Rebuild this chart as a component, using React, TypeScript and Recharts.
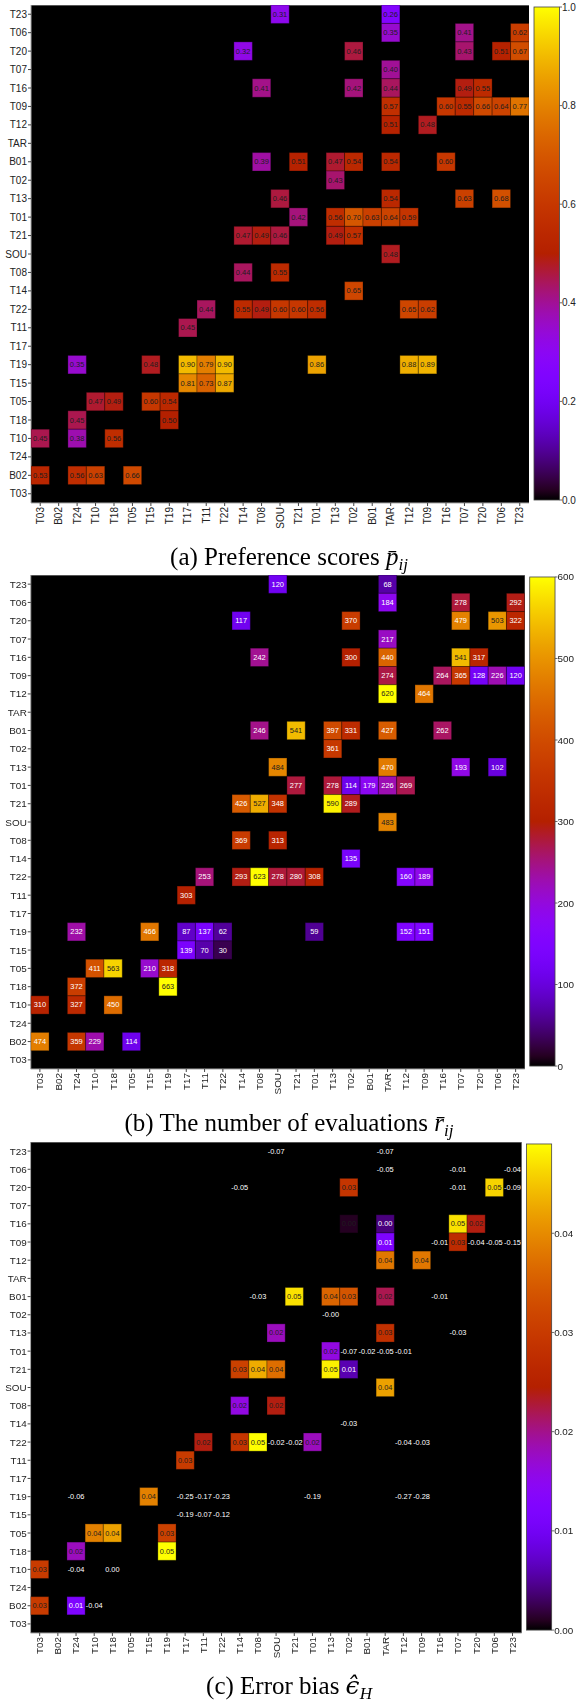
import React from 'react';
import { ScatterChart, Scatter, XAxis, YAxis, CartesianGrid, ReferenceLine } from 'recharts';

// ---------- DATA ----------
const columnLabels = ['T03','B02','T24','T10','T18','T05','T15','T19','T17','T11','T22','T14','T08','SOU','T21','T01','T13','T02','B01','TAR','T12','T09','T16','T07','T20','T06','T23'];
const rowLabels = [...columnLabels].reverse();

type Entry = [string, string, number];

const preferenceScores: Entry[] = [
  ['T23','SOU',0.31],['T23','TAR',0.26],
  ['T06','TAR',0.35],['T06','T07',0.41],['T06','T23',0.62],
  ['T20','T14',0.32],['T20','T02',0.46],['T20','T07',0.43],['T20','T06',0.51],['T20','T23',0.67],
  ['T07','TAR',0.40],
  ['T16','T08',0.41],['T16','T02',0.42],['T16','TAR',0.44],['T16','T07',0.49],['T16','T20',0.55],
  ['T09','TAR',0.57],['T09','T16',0.60],['T09','T07',0.55],['T09','T20',0.66],['T09','T06',0.64],['T09','T23',0.77],
  ['T12','TAR',0.51],['T12','T09',0.48],
  ['B01','T08',0.39],['B01','T21',0.51],['B01','T13',0.47],['B01','T02',0.54],['B01','TAR',0.54],['B01','T16',0.60],
  ['T02','T13',0.43],
  ['T13','SOU',0.46],['T13','TAR',0.54],['T13','T07',0.63],['T13','T06',0.68],
  ['T01','T21',0.42],['T01','T13',0.56],['T01','T02',0.70],['T01','B01',0.63],['T01','TAR',0.64],['T01','T12',0.59],
  ['T21','T14',0.47],['T21','T08',0.49],['T21','SOU',0.46],['T21','T13',0.49],['T21','T02',0.57],
  ['SOU','TAR',0.48],
  ['T08','T14',0.44],['T08','SOU',0.55],
  ['T14','T02',0.65],
  ['T22','T11',0.44],['T22','T14',0.55],['T22','T08',0.49],['T22','SOU',0.60],['T22','T21',0.60],['T22','T01',0.56],['T22','T12',0.65],['T22','T09',0.62],
  ['T11','T17',0.45],
  ['T19','T24',0.35],['T19','T15',0.48],['T19','T17',0.90],['T19','T11',0.79],['T19','T22',0.90],['T19','T01',0.86],['T19','T12',0.88],['T19','T09',0.89],
  ['T15','T17',0.81],['T15','T11',0.73],['T15','T22',0.87],
  ['T05','T10',0.47],['T05','T18',0.49],['T05','T15',0.60],['T05','T19',0.54],
  ['T18','T24',0.45],['T18','T19',0.50],
  ['T10','T03',0.45],['T10','T24',0.38],['T10','T18',0.56],
  ['B02','T03',0.53],['B02','T24',0.56],['B02','T10',0.63],['B02','T05',0.66],
];

const evaluationCounts: Entry[] = [
  ['T23','SOU',120],['T23','TAR',68],
  ['T06','TAR',184],['T06','T07',278],['T06','T23',292],
  ['T20','T14',117],['T20','T02',370],['T20','T07',479],['T20','T06',503],['T20','T23',322],
  ['T07','TAR',217],
  ['T16','T08',242],['T16','T02',300],['T16','TAR',440],['T16','T07',541],['T16','T20',317],
  ['T09','TAR',274],['T09','T16',264],['T09','T07',365],['T09','T20',128],['T09','T06',226],['T09','T23',120],
  ['T12','TAR',620],['T12','T09',464],
  ['B01','T08',246],['B01','T21',541],['B01','T13',397],['B01','T02',331],['B01','TAR',427],['B01','T16',262],
  ['T02','T13',361],
  ['T13','SOU',484],['T13','TAR',470],['T13','T07',193],['T13','T06',102],
  ['T01','T21',277],['T01','T13',278],['T01','T02',114],['T01','B01',179],['T01','TAR',226],['T01','T12',269],
  ['T21','T14',426],['T21','T08',527],['T21','SOU',348],['T21','T13',590],['T21','T02',289],
  ['SOU','TAR',483],
  ['T08','T14',369],['T08','SOU',313],
  ['T14','T02',135],
  ['T22','T11',253],['T22','T14',293],['T22','T08',623],['T22','SOU',278],['T22','T21',280],['T22','T01',308],['T22','T12',160],['T22','T09',189],
  ['T11','T17',303],
  ['T19','T24',232],['T19','T15',466],['T19','T17',87],['T19','T11',137],['T19','T22',62],['T19','T01',59],['T19','T12',152],['T19','T09',151],
  ['T15','T17',139],['T15','T11',70],['T15','T22',30],
  ['T05','T10',411],['T05','T18',563],['T05','T15',210],['T05','T19',318],
  ['T18','T24',372],['T18','T19',663],
  ['T10','T03',310],['T10','T24',327],['T10','T18',450],
  ['B02','T03',474],['B02','T24',359],['B02','T10',229],['B02','T05',114],
];

const errorBias: Entry[] = [
  ['T23','SOU',-0.07],['T23','TAR',-0.07],
  ['T06','TAR',-0.05],['T06','T07',-0.01],['T06','T23',-0.04],
  ['T20','T14',-0.05],['T20','T02',0.029],['T20','T07',-0.01],['T20','T06',0.046],['T20','T23',-0.09],
  ['T16','T02',0.001],['T16','TAR',0.004],['T16','T07',0.047],['T16','T20',0.024],
  ['T09','TAR',0.012],['T09','T16',-0.01],['T09','T07',0.027],['T09','T20',-0.04],['T09','T06',-0.05],['T09','T23',-0.15],
  ['T12','TAR',0.038],['T12','T09',0.038],
  ['B01','T08',-0.03],['B01','T21',0.047],['B01','T13',0.036],['B01','T02',0.034],['B01','TAR',0.022],['B01','T16',-0.01],
  ['T02','T13',-0.001],
  ['T13','SOU',0.018],['T13','TAR',0.028],['T13','T07',-0.03],
  ['T01','T13',0.016],['T01','T02',-0.07],['T01','B01',-0.02],['T01','TAR',-0.05],['T01','T12',-0.01],
  ['T21','T14',0.031],['T21','T08',0.043],['T21','SOU',0.037],['T21','T13',0.048],['T21','T02',0.006],
  ['SOU','TAR',0.042],
  ['T08','T14',0.016],['T08','SOU',0.024],
  ['T14','T02',-0.03],
  ['T22','T11',0.024],['T22','T14',0.029],['T22','T08',0.049],['T22','SOU',-0.02],['T22','T21',-0.02],['T22','T01',0.018],['T22','T12',-0.04],['T22','T09',-0.03],
  ['T11','T17',0.030],
  ['T19','T24',-0.06],['T19','T15',0.039],['T19','T17',-0.25],['T19','T11',-0.17],['T19','T22',-0.23],['T19','T01',-0.19],['T19','T12',-0.27],['T19','T09',-0.28],
  ['T15','T17',-0.19],['T15','T11',-0.07],['T15','T22',-0.12],
  ['T05','T10',0.039],['T05','T18',0.042],['T05','T19',0.031],
  ['T18','T24',0.018],['T18','T19',0.049],
  ['T10','T03',0.030],['T10','T24',-0.04],['T10','T18',0],
  ['B02','T03',0.030],['B02','T24',0.012],['B02','T10',-0.04],
];

const ticksA = [0, 0.2, 0.4, 0.6, 0.8, 1.0];
const ticksB = [0, 100, 200, 300, 400, 500, 600];
const ticksC = [0, 0.01, 0.02, 0.03, 0.04];

// ---------- STYLE / LAYOUT ----------
const SANS = 'Liberation Sans, Arial, Helvetica, sans-serif';
const SERIF = 'Liberation Serif, Times New Roman, serif';
const PLOT_LEFT = 31;
const PLOT_W = 498;
const PLOT_H = 498;
const N = columnLabels.length;
const CELL = PLOT_W / N;
const CHART_W = 540;
const X_AXIS_H = 40;
const CHART_H = PLOT_H + X_AXIS_H + 2;
const CB_X = 534;
const CB_W = 25.5;
const SVG_PAD = 10;
const axisTicks = columnLabels.map((_, i) => i + 0.5);

function gnuplot(t: number): string {
  const x = Math.max(0, Math.min(1, t));
  const r = Math.sqrt(x);
  const g = x * x * x;
  const b = Math.max(0, Math.min(1, Math.sin(2 * Math.PI * x)));
  return `rgb(${Math.round(r * 255)},${Math.round(g * 255)},${Math.round(b * 255)})`;
}

const gradientStops = Array.from({ length: 51 }, (_, i) => i / 50);

function XTick(props: any) {
  const { x, y, payload } = props;
  const label = columnLabels[Math.floor(payload.value)];
  return (
    <text
      transform={`translate(${x},${y + 1}) rotate(-90)`}
      textAnchor="end"
      dy="0.35em"
      fontSize={10}
      fontFamily={SANS}
      fill="#222"
    >
      {label}
    </text>
  );
}

type PanelProps = {
  top: number;
  scale: number;
  entries: Entry[];
  vmax: number;
  format: (v: number) => string;
  textColor: (v: number) => string;
  ticks: number[];
  tickFmt: (v: number) => string;
};

function Panel({ top, scale, entries, vmax, format, textColor, ticks, tickFmt }: PanelProps) {
  const data = entries.map(([r, c, v]) => ({
    x: columnLabels.indexOf(c) + 0.5,
    y: rowLabels.indexOf(r) + 0.5,
    v,
  }));
  const renderCell = (props: any) => {
    const { cx, cy, payload } = props;
    const v: number = payload.v;
    return (
      <g>
        {v >= 0 && (
          <rect
            x={cx - CELL / 2}
            y={cy - CELL / 2}
            width={CELL}
            height={CELL}
            fill={gnuplot(v / vmax)}
            stroke="rgba(0,0,0,0.3)"
            strokeWidth={1}
          />
        )}
        <text
          x={cx}
          y={cy}
          textAnchor="middle"
          dominantBaseline="central"
          fontSize={7.5}
          fontFamily={SANS}
          fill={textColor(v)}
        >
          {format(v)}
        </text>
      </g>
    );
  };
  const cbY = 2;
  const cbH = PLOT_H - 5;
  const panelW = 578 / scale;
  return (
    <div
      style={{
        position: 'absolute',
        left: 0,
        top,
        width: panelW,
        height: CHART_H,
        transform: `scale(${scale})`,
        transformOrigin: '0 0',
      }}
    >
      <ScatterChart
        width={CHART_W}
        height={CHART_H}
        margin={{ top: 0, right: CHART_W - PLOT_LEFT - PLOT_W, bottom: 2, left: 0 }}
      >
        <CartesianGrid fill="#000" stroke="none" horizontal={false} vertical={false} />
        <XAxis
          type="number"
          dataKey="x"
          domain={[0, N]}
          ticks={axisTicks}
          interval={0}
          height={X_AXIS_H}
          tickSize={3}
          tickMargin={0}
          tick={<XTick />}
          tickLine={{ stroke: '#444' }}
          axisLine={{ stroke: '#aaa' }}
          allowDataOverflow
        />
        <YAxis
          type="number"
          dataKey="y"
          domain={[0, N]}
          reversed
          ticks={axisTicks}
          interval={0}
          width={PLOT_LEFT}
          tickSize={3}
          tickMargin={1}
          tickFormatter={(v: number) => rowLabels[Math.floor(v)]}
          tick={{ fontSize: 10, fill: '#222', fontFamily: SANS }}
          tickLine={{ stroke: '#444' }}
          axisLine={{ stroke: '#aaa' }}
          allowDataOverflow
        />
        <ReferenceLine y={0} stroke="#aaa" />
        <Scatter data={data} isAnimationActive={false} shape={renderCell} />
      </ScatterChart>
      <svg
        width={panelW}
        height={CHART_H + SVG_PAD}
        style={{ position: 'absolute', left: 0, top: -SVG_PAD, pointerEvents: 'none', overflow: 'visible' }}
      >
        <g transform={`translate(0,${SVG_PAD})`}>
          <rect x={CB_X} y={cbY} width={CB_W} height={cbH} fill="url(#gnuplotGrad)" stroke="#444" strokeWidth={0.8} />
          {ticks.map((t) => {
            const y = cbY + cbH - (t / vmax) * cbH;
            return (
              <g key={t}>
                <line x1={CB_X + CB_W} x2={CB_X + CB_W + 2.5} y1={y} y2={y} stroke="#444" strokeWidth={0.8} />
                <text x={CB_X + CB_W + 2.5} y={y} dominantBaseline="central" fontSize={10} fontFamily={SANS} fill="#222">
                  {tickFmt(t)}
                </text>
              </g>
            );
          })}
        </g>
      </svg>
    </div>
  );
}

const TOPS = [5, 575, 1142];
const SCALES = [1, 0.992, 0.986];

function cTextColor(v: number): string {
  if (v <= 0) return '#ffffff';
  if (v < 0.002) return '#1e1e1e';
  return v / 0.049 < 0.3 ? '#ffffff' : '#1e1e1e';
}

export default function App() {
  return (
    <div style={{ position: 'absolute', left: 0, top: 0, width: 578, height: 1703, background: '#fff', overflow: 'hidden' }}>
      <svg width={0} height={0} style={{ position: 'absolute' }}>
        <defs>
          <linearGradient id="gnuplotGrad" x1="0" y1="1" x2="0" y2="0">
            {gradientStops.map((s) => (
              <stop key={s} offset={s} stopColor={gnuplot(s)} />
            ))}
          </linearGradient>
        </defs>
      </svg>
      <Panel
        top={TOPS[0]}
        scale={SCALES[0]}
        entries={preferenceScores}
        vmax={1}
        format={(v) => v.toFixed(2)}
        textColor={() => '#1e1e1e'}
        ticks={ticksA}
        tickFmt={(v) => v.toFixed(1)}
      />
      <Panel
        top={TOPS[1]}
        scale={SCALES[1]}
        entries={evaluationCounts}
        vmax={600}
        format={(v) => String(v)}
        textColor={(v) => (v >= 480 ? '#1e1e1e' : '#ffffff')}
        ticks={ticksB}
        tickFmt={(v) => String(v)}
      />
      <Panel
        top={TOPS[2]}
        scale={SCALES[2]}
        entries={errorBias}
        vmax={0.049}
        format={(v) => v.toFixed(2)}
        textColor={cTextColor}
        ticks={ticksC}
        tickFmt={(v) => v.toFixed(2)}
      />
      <svg width={578} height={1703} style={{ position: 'absolute', left: 0, top: 0, pointerEvents: 'none' }}>
        <text x={289} y={565} textAnchor="middle" fontFamily={SERIF} fontSize={25} fill="#000">
          (a) Preference scores <tspan fontStyle="italic">p̄</tspan>
          <tspan fontStyle="italic" fontSize={17} dy={5}>ij</tspan>
        </text>
        <text x={289} y={1131} textAnchor="middle" fontFamily={SERIF} fontSize={25} fill="#000">
          (b) The number of evaluations <tspan fontStyle="italic">r̄</tspan>
          <tspan fontStyle="italic" fontSize={17} dy={5}>ij</tspan>
        </text>
        <text x={289} y={1694} textAnchor="middle" fontFamily={SERIF} fontSize={25} fill="#000">
          (c) Error bias <tspan fontStyle="italic" fontFamily="DejaVu Serif, serif">ϵ̂</tspan>
          <tspan fontStyle="italic" fontSize={17} dy={5}>H</tspan>
        </text>
      </svg>
    </div>
  );
}
